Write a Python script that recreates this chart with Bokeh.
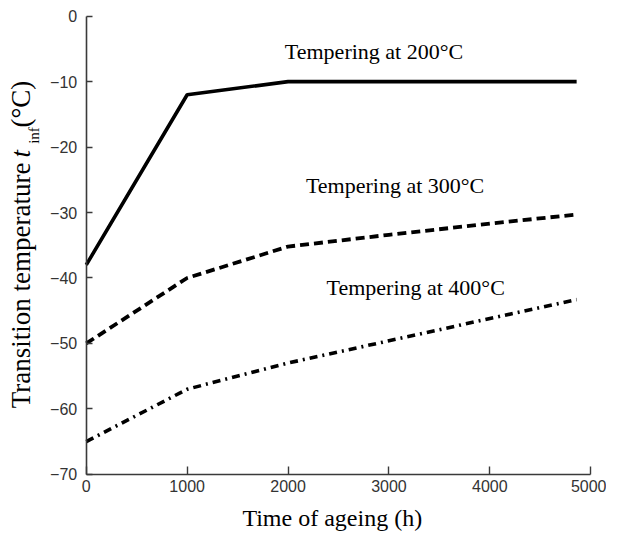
import math
from bokeh.plotting import figure
from bokeh.models import Label, FixedTicker, Range1d
from bokeh.embed import file_html
from bokeh.resources import INLINE

# ---- data ----
hours = [0, 1000, 2000, 3000, 4000, 4860]
temp_200 = [-38, -12, -10, -10, -10, -10]
temp_300 = [-50, -40, -35.2, -33.4, -31.7, -30.3]
temp_400 = [-65, -57, -53, -49.6, -46.2, -43.3]

x_ticks = [0, 1000, 2000, 3000, 4000, 5000]
y_ticks = [-70, -60, -50, -40, -30, -20, -10, 0]

series_labels = ["Tempering at 200°C", "Tempering at 300°C", "Tempering at 400°C"]
x_title = "Time of ageing (h)"

SERIF = "Liberation Serif"
SANS = "Liberation Sans"
AXIS_COLOR = "#3a3a3a"

# The frame covers the whole canvas; both axes are pinned at the data origin
# (x = 0, y = -70) so that titles and tick labels all lie inside the frame.
p = figure(width=606, height=534,
           x_range=Range1d(-850, 5156), y_range=Range1d(-79.2, 2.4),
           output_backend="svg", toolbar_location=None,
           min_border=0, min_border_left=0, min_border_right=0,
           min_border_top=0, min_border_bottom=0)
p.outline_line_color = None
p.xgrid.visible = False
p.ygrid.visible = False
p.background_fill_color = "white"
p.border_fill_color = "white"

# axes
p.xaxis.ticker = FixedTicker(ticks=x_ticks, minor_ticks=[])
p.yaxis.ticker = FixedTicker(ticks=y_ticks, minor_ticks=[])
p.xaxis.bounds = (0, 5000)
p.yaxis.bounds = (-70, 0)
p.xaxis.fixed_location = -70
p.yaxis.fixed_location = 0
for ax in (p.xaxis, p.yaxis):
    ax.axis_line_color = AXIS_COLOR
    ax.axis_line_width = 1.6
    ax.major_tick_line_color = AXIS_COLOR
    ax.major_tick_line_width = 1.4
    ax.major_tick_out = 0
    ax.minor_tick_line_color = None
    ax.major_label_text_font = SANS
    ax.major_label_text_font_size = "16px"
    ax.major_label_text_color = "#333333"
p.xaxis.major_tick_in = 8
p.yaxis.major_tick_in = 6
p.xaxis.major_label_standoff = 6
p.yaxis.major_label_standoff = 9

# series
p.line(hours, temp_200, line_color="black", line_width=3.6)
p.line(hours, temp_300, line_color="black", line_width=3.8, line_dash="9 5")
p.line(hours, temp_400, line_color="black", line_width=3.6, line_dash="8 5 2 5")

# series annotations
ann_pos = [(1968, -5.4), (2177, -25.8), (2381, -41.5)]
for txt, (ax_, ay_) in zip(series_labels, ann_pos):
    p.add_layout(Label(x=ax_, y=ay_, text=txt, text_font=SERIF,
                       text_font_size="22px", text_color="black",
                       text_align="left", text_baseline="alphabetic"))

# x-axis title
p.add_layout(Label(x=2438, y=-76.7, text=x_title, text_font=SERIF,
                   text_font_size="24px", text_color="black",
                   text_align="center", text_baseline="alphabetic"))

# y-axis title built from pieces (italic t with subscript "inf")
ylab_x = -650
ylab_pieces = [
    ("Transition temperature", -59.9, ylab_x, "27px", "normal"),
    ("t", -21.6, ylab_x, "27px", "italic"),
    ("inf", -19.5, -520, "15px", "normal"),
    ("(°C)", -17.0, ylab_x, "27px", "normal"),
]
for txt, yy, xx, fs, st in ylab_pieces:
    p.add_layout(Label(x=xx, y=yy, text=txt, angle=math.pi / 2, angle_units="rad",
                       text_font=SERIF, text_font_size=fs, text_font_style=st,
                       text_color="black", text_align="left",
                       text_baseline="alphabetic"))

open("out.html", "w").write(file_html(p, INLINE))
